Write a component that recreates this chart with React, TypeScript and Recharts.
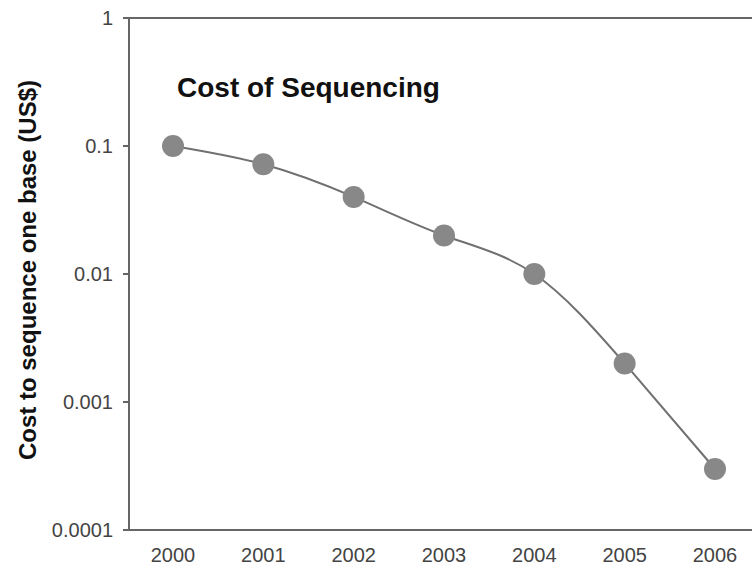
import { LineChart, Line, XAxis, YAxis, ReferenceLine, Label } from 'recharts';

const years = ['2000', '2001', '2002', '2003', '2004', '2005', '2006'];
const costPerBase = [0.1, 0.072, 0.04, 0.02, 0.01, 0.002, 0.0003];
const yTicks = [0.0001, 0.001, 0.01, 0.1, 1];

const data = years.map((year, i) => ({ year, cost: costPerBase[i] }));

const FONT = '"Liberation Sans", Arial, sans-serif';

export default function App() {
  return (
    <div style={{ position: 'absolute', left: 0, top: 0, width: 753, height: 574, background: '#fff', fontFamily: FONT }}>
      <LineChart width={753} height={574} data={data} margin={{ top: 18, right: 1, bottom: 0, left: 0 }}>
        <XAxis
          dataKey="year"
          height={44}
          padding={{ left: 44, right: 37 }}
          axisLine={{ stroke: '#666', strokeWidth: 2 }}
          tickLine={false}
          tick={{ fill: '#444', fontSize: 20, fontFamily: FONT }}
          tickMargin={12}
        />
        <YAxis
          width={129}
          scale="log"
          domain={[0.0001, 1]}
          ticks={yTicks}
          allowDataOverflow
          tickFormatter={(v: number) => String(v)}
          axisLine={{ stroke: '#666', strokeWidth: 2 }}
          tickLine={{ stroke: '#666', strokeWidth: 2 }}
          tickSize={6}
          tickMargin={10}
          tick={{ fill: '#444', fontSize: 20, fontFamily: FONT }}
        >
          <Label
            content={({ viewBox }: any) => {
              const cy = viewBox.y + viewBox.height / 2 - 4;
              return (
                <text
                  x={27}
                  y={cy}
                  transform={`rotate(-90, 27, ${cy})`}
                  textAnchor="middle"
                  dominantBaseline="central"
                  fontFamily={FONT}
                  fontWeight="bold"
                  fontSize={24}
                  fill="#111"
                >
                  Cost to sequence one base (US$)
                </text>
              );
            }}
          />
        </YAxis>
        <ReferenceLine y={1} stroke="#666" strokeWidth={2} />
        <Line
          type="natural"
          dataKey="cost"
          stroke="#707070"
          strokeWidth={2}
          dot={{ r: 11, fill: '#888', stroke: 'none' }}
          isAnimationActive={false}
        />
      </LineChart>
      <svg width={753} height={574} style={{ position: 'absolute', left: 0, top: 0, pointerEvents: 'none' }}>
        <text x={177} y={97} fontFamily={FONT} fontWeight="bold" fontSize={28} fill="#111">
          Cost of Sequencing
        </text>
      </svg>
    </div>
  );
}
